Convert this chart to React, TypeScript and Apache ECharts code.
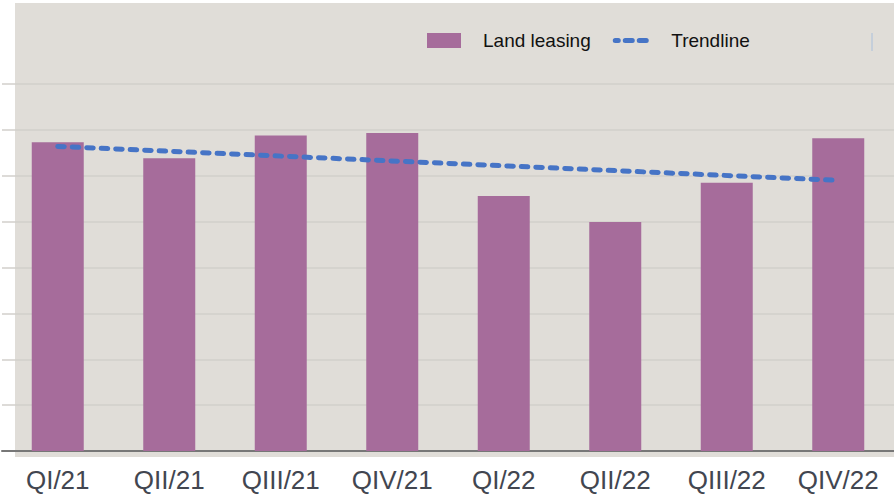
import React, { useEffect, useRef } from "react";
import * as echarts from "echarts";

const categories = ["QI/21", "QII/21", "QIII/21", "QIV/21", "QI/22", "QII/22", "QIII/22", "QIV/22"];
const landLeasing = [6.73, 6.38, 6.88, 6.93, 5.56, 4.99, 5.85, 6.82];
const trendStart = 6.64;
const trendEnd = 5.9;

export default function App() {
  const ref = useRef<HTMLDivElement>(null);
  useEffect(() => {
    if (!ref.current) return;
    const chart = echarts.init(ref.current, undefined, { renderer: "svg" });
    chart.setOption({
      animation: false,
      backgroundColor: "#ffffff",
      graphic: [
        {
          type: "rect",
          z: -100,
          shape: { x: 15, y: 3, width: 879, height: 454 },
          style: { fill: "#e0ddd8" },
        },
        {
          type: "line",
          z: 100,
          shape: { x1: 872, y1: 33, x2: 872, y2: 51 },
          style: { stroke: "#aac0dc", lineWidth: 1 },
        },
      ],
      grid: { left: 2, right: 0, top: 84, bottom: 44, containLabel: false },
      legend: {
        left: 427,
        top: 31,
        padding: 0,
        itemWidth: 34,
        itemHeight: 15,
        itemGap: 22,
        textStyle: {
          fontFamily: "Liberation Sans",
          fontSize: 19,
          color: "#111111",
          padding: [0, 0, 0, 17],
        },
        data: [
          { name: "Land leasing", icon: "rect" },
          {
            name: "Trendline",
            itemStyle: { opacity: 0 },
            lineStyle: { color: "#4674c6", width: 5, type: [7, 7], cap: "round", dashOffset: 4 },
          },
        ],
      },
      xAxis: {
        type: "category",
        data: categories,
        axisLine: { show: true, lineStyle: { color: "#777777", width: 2 } },
        axisTick: { show: false },
        axisLabel: {
          fontFamily: "Liberation Sans",
          fontSize: 26,
          color: "#424650",
          margin: 16,
          interval: 0,
        },
      },
      yAxis: {
        type: "value",
        min: 0,
        max: 8,
        interval: 1,
        axisLabel: { show: false },
        axisLine: { show: false },
        axisTick: { show: false },
        splitLine: { lineStyle: { color: "#d2cfcb", width: 1.5 } },
      },
      series: [
        {
          name: "Land leasing",
          type: "bar",
          data: landLeasing,
          barWidth: 52,
          itemStyle: { color: "#a66c9b" },
        },
        {
          name: "Trendline",
          type: "line",
          data: [
            [categories[0], trendStart],
            [categories[categories.length - 1], trendEnd],
          ],
          symbol: "none",
          z: 5,
          lineStyle: { color: "#4674c6", width: 5, type: [6.5, 8], cap: "round" },
          itemStyle: { color: "#4674c6" },
        },
      ],
    });
    return () => chart.dispose();
  }, []);
  return (
    <div
      ref={ref}
      style={{ position: "fixed", left: 0, top: 0, width: 894, height: 495 }}
    />
  );
}
